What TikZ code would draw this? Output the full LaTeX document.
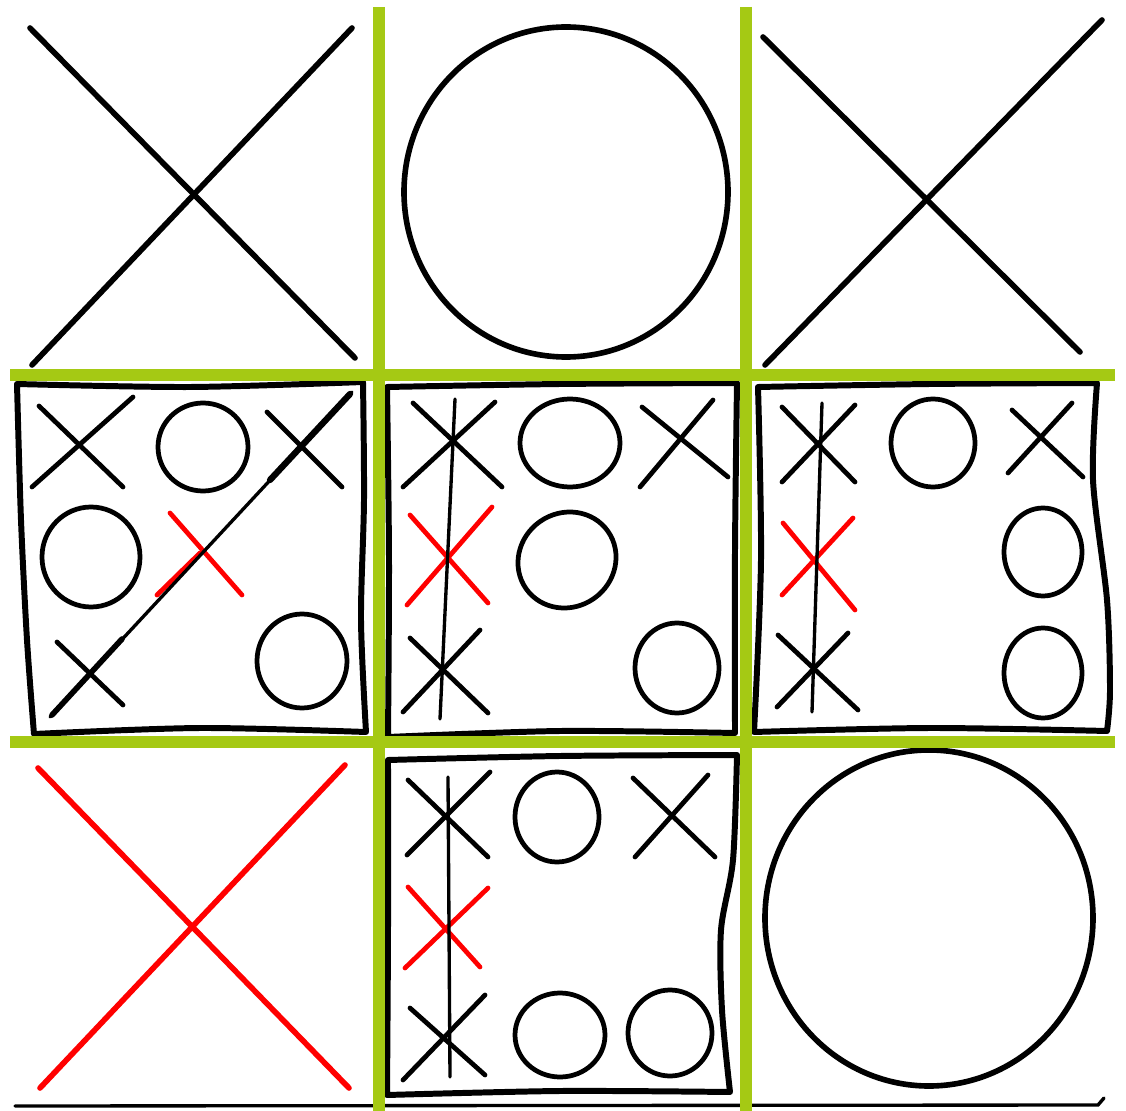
\documentclass[tikz,border=0pt]{standalone}
\usepackage{xcolor}
\usepackage{tikz}
\usetikzlibrary{positioning}
\definecolor{gridgreen}{RGB}{165,201,20}

\begin{document}
\begin{tikzpicture}[x=0.02cm, y=-0.02cm]
\tikzstyle{bigsketch} = [line width=3.2pt, line cap=round, line join=round]
\tikzstyle{sketch} = [line width=2.7pt, line cap=round, line join=round]
\tikzstyle{boardframe} = [line width=3.4pt, line join=round, line cap=round]
\tikzstyle{winline} = [line width=1.9pt, line cap=round]
\tikzstyle{gridline} = [line width=6.3pt, draw=gridgreen]

\useasboundingbox (0,0) rectangle (1126,1111);

\draw [bigsketch] (30,28) -- (355,358);
\draw [bigsketch] (352,28) -- (32,365);
\draw [bigsketch] (566,192) ellipse [x radius=162, y radius=165];
\draw [bigsketch] (763,37) -- (1080,352);
\draw [bigsketch] (1102,20) -- (765,365);

\draw [bigsketch, red] (38,768) -- (349,1088);
\draw [bigsketch, red] (345,765) -- (40,1088);
\draw [bigsketch] (929,918) ellipse [x radius=164, y radius=168];

\draw [boardframe] plot [smooth, tension=0.5] coordinates {(17,384) (190,387) (363,382)}
  -- plot [smooth, tension=0.5] coordinates {(363,382) (364,500) (361,620) (366,732)}
  -- plot [smooth, tension=0.5] coordinates {(366,732) (200,728) (34,734)}
  -- plot [smooth, tension=0.5] coordinates {(34,734) (27,640) (21,520) (17,384)} -- cycle;
\draw [sketch] (39,406) -- (123,487);
\draw [sketch] (133,397) -- (32,487);
\draw [sketch] (203,447) ellipse [x radius=45, y radius=44];
\draw [sketch] (267,412) -- (342,487);
\draw [sketch] (91,557) ellipse [x radius=49, y radius=50];
\draw [sketch, red] (170,513) -- (242,595);
\draw [sketch, red] (157,595) -- (200,553);
\draw [sketch] (57,642) -- (123,705);
\draw [sketch] (302,661) ellipse [x radius=45, y radius=47];
\draw [winline] (50,717) -- (352,392);
\draw [sketch, line width=3.2pt] (52,715) -- (122,639);
\draw [sketch, line width=3.6pt] (270,480) -- (350,394);

\draw [boardframe] plot [smooth, tension=0.5] coordinates {(387,387) (560,384) (737,383)}
  -- plot [smooth, tension=0.5] coordinates {(737,383) (735,550) (735,733)}
  -- plot [smooth, tension=0.5] coordinates {(735,733) (560,731) (388,737)}
  -- plot [smooth, tension=0.5] coordinates {(388,737) (389,560) (387,387)} -- cycle;
\draw [sketch] (413,403) -- (502,487);
\draw [sketch] (495,402) -- (403,487);
\draw [sketch] (570,443) ellipse [x radius=50, y radius=44];
\draw [sketch] (642,407) -- (728,477);
\draw [sketch] (713,400) -- (640,487);
\draw [sketch, red] (410,515) -- (488,603);
\draw [sketch, red] (492,507) -- (407,605);
\draw [sketch, rotate around={35:(567,560)}] (567,560) ellipse [x radius=50, y radius=47];
\draw [sketch] (410,638) -- (488,713);
\draw [sketch] (480,630) -- (403,712);
\draw [sketch] (677,668) ellipse [x radius=42, y radius=45];
\draw [winline] (455,399) -- (440,719);

\draw [boardframe] plot [smooth, tension=0.5] coordinates {(758,387) (930,384) (1097,383)}
  -- plot [smooth, tension=0.5] coordinates {(1097,383) (1093,480) (1107,600) (1110,690) (1107,731)}
  -- plot [smooth, tension=0.5] coordinates {(1107,731) (930,728) (754,732)}
  -- plot [smooth, tension=0.5] coordinates {(754,732) (761,560) (758,387)} -- cycle;
\draw [sketch] (782,407) -- (855,482);
\draw [sketch] (855,405) -- (782,482);
\draw [sketch] (933,443) ellipse [x radius=42, y radius=44];
\draw [sketch] (1012,410) -- (1083,477);
\draw [sketch] (1072,403) -- (1008,473);
\draw [sketch, red] (783,523) -- (855,610);
\draw [sketch, red] (853,518) -- (782,595);
\draw [sketch] (1043,552) ellipse [x radius=39, y radius=44];
\draw [sketch] (778,635) -- (858,710);
\draw [sketch] (848,633) -- (777,707);
\draw [sketch] (1043,673) ellipse [x radius=39, y radius=45];
\draw [winline] (822,403) -- (812,712);

\draw [boardframe] plot [smooth, tension=0.5] coordinates {(388,760) (560,756) (737,755)}
  -- plot [smooth, tension=0.5] coordinates {(737,755) (733,860) (721,930) (722,1010) (730,1092)}
  -- plot [smooth, tension=0.5] coordinates {(730,1092) (560,1091) (387,1095)}
  -- plot [smooth, tension=0.5] coordinates {(387,1095) (388,930) (388,760)} -- cycle;
\draw [sketch] (408,780) -- (488,857);
\draw [sketch] (490,772) -- (407,855);
\draw [sketch] (557,817) ellipse [x radius=42, y radius=45];
\draw [sketch] (633,778) -- (715,857);
\draw [sketch] (708,775) -- (635,857);
\draw [sketch, red] (408,887) -- (480,967);
\draw [sketch, red] (488,888) -- (405,968);
\draw [sketch] (410,1008) -- (485,1075);
\draw [sketch] (485,995) -- (403,1080);
\draw [sketch] (560,1035) ellipse [x radius=45, y radius=42];
\draw [sketch] (670,1033) ellipse [x radius=42, y radius=43];
\draw [winline] (448,777) -- (450,1077);

\draw [winline] (15,1106) -- (1098,1105) -- (1104,1098);

\draw [gridline] (379,7) -- (379,1111);
\draw [gridline] (746,7) -- (746,1111);
\draw [gridline] (10,375) -- (1115,375);
\draw [gridline] (10,742) -- (1115,742);
\end{tikzpicture}
\end{document}
